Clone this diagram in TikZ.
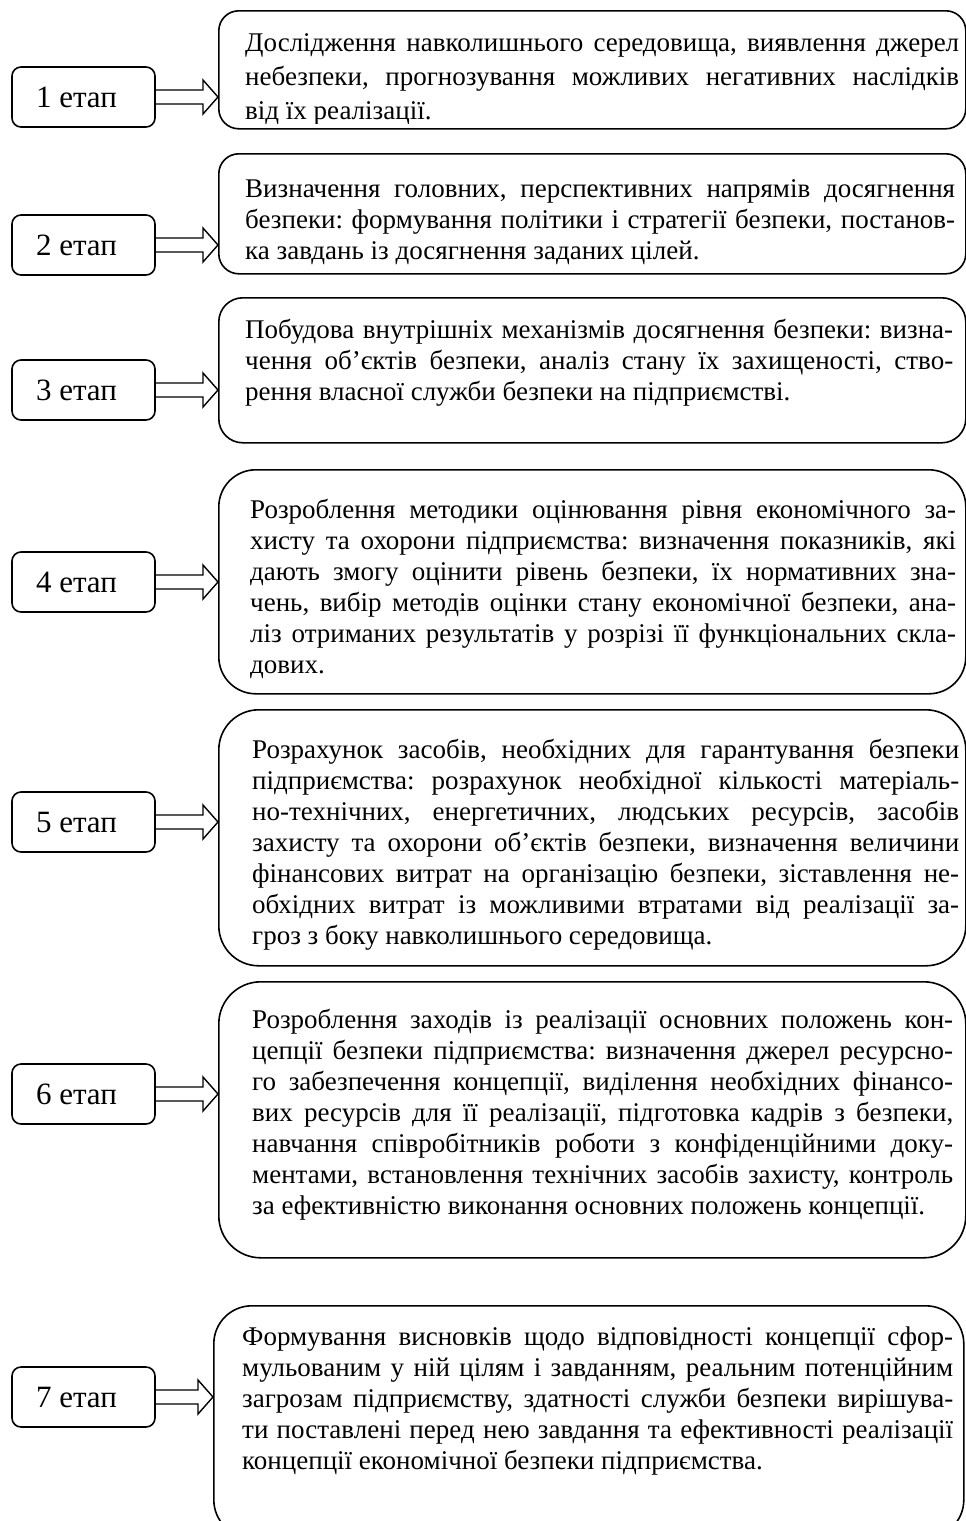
\documentclass[tikz,border=0pt]{standalone}
\usepackage{fontspec}
\setmainfont{Liberation Serif}
\usetikzlibrary{calc}
\tolerance=10000
\hbadness=10000
\frenchspacing

% double-lined open arrow from a stage box to its text box
\newcommand{\stagearrow}[2]{%
  \draw[arrowline] ($(#1.east)+(0,-7)$) -- ($(#2.west |- #1.east)+(-15,-7)$) -- ++(0,-10)
    -- (#2.west |- #1.east) -- ++(-15,17) -- ++(0,-10) -- ($(#1.east)+(0,7)$);}

\begin{document}
\begin{tikzpicture}[x=1pt,y=-1pt,
    stagebox/.style={draw,line width=1.6pt,rounded corners=9pt,minimum width=143pt,
      minimum height=60pt,inner sep=0pt,font=\fontsize{31}{36}\selectfont},
    textbox/.style={draw,line width=1.6pt,anchor=north west,minimum width=747pt,inner sep=0pt},
    boxtext/.style={anchor=north west,inner sep=0pt,text width=708pt,align=justify,
      font=\fontsize{27}{31}\selectfont},
    arrowline/.style={line width=1.4pt,line join=miter}]
  \path[use as bounding box,clip] (0,0) rectangle (966,1521);

  % text boxes
  \node[textbox,minimum height=118pt,rounded corners=20pt] (b1) at (218,10) {};
  \node[textbox,minimum height=120pt,rounded corners=20pt] (b2) at (218,153) {};
  \node[textbox,minimum height=145pt,rounded corners=24pt] (b3) at (218,297) {};
  \node[textbox,minimum height=224pt,rounded corners=37pt] (b4) at (218,469) {};
  \node[textbox,minimum height=256pt,rounded corners=40pt] (b5) at (218,709) {};
  \node[textbox,minimum height=276pt,rounded corners=42pt] (b6) at (218,981) {};
  \node[textbox,minimum height=232pt,minimum width=750pt,rounded corners=38pt] (b7) at (213,1305) {};

  % the third line of the first box is cut by its border
  \begin{scope}
    \clip ($(b1.north west)+(0,0)$) rectangle ($(b1.south east)+(0,-6)$);
    \node[boxtext,text width=714pt,font=\fontsize{27}{34}\selectfont] (t1) at ($(b1.north west)+(27,23)$) {Дослідження навколишнього середовища, виявлення джерел\linebreak
      небезпеки, прогнозування можливих негативних наслідків\linebreak
      від їх  реалізації.};
  \end{scope}
  \node[boxtext,text width=710pt] (t2) at ($(b2.north west)+(27,26)$) {Визначення головних, перспективних напрямів досягнення\linebreak
    безпеки: формування політики і стратегії безпеки, постанов-\linebreak
    ка завдань із досягнення заданих цілей.};
  \node[boxtext] (t3) at ($(b3.north west)+(27,22)$) {Побудова внутрішніх механізмів досягнення безпеки: визна-\linebreak
    чення об'єктів безпеки, аналіз стану їх захищеності, ство-\linebreak
    рення власної служби безпеки на підприємстві.};
  \node[boxtext,text width=706pt] (t4) at ($(b4.north west)+(32,30)$) {Розроблення методики оцінювання рівня економічного за-\linebreak
    хисту та охорони підприємства: визначення показників, які\linebreak
    дають змогу оцінити рівень безпеки, їх нормативних зна-\linebreak
    чень, вибір методів оцінки стану економічної безпеки, ана-\linebreak
    ліз отриманих результатів у розрізі її функціональних скла-\linebreak
    дових.};
  \node[boxtext,text width=707pt] (t5) at ($(b5.north west)+(34,30)$) {Розрахунок засобів, необхідних для гарантування безпеки\linebreak
    підприємства: розрахунок необхідної кількості матеріаль-\linebreak
    но-технічних, енергетичних, людських ресурсів, засобів\linebreak
    захисту та охорони об'єктів безпеки, визначення величини\linebreak
    фінансових витрат на організацію безпеки, зіставлення не-\linebreak
    обхідних витрат із можливими втратами від реалізації за-\linebreak
    гроз з боку навколишнього середовища.};
  \node[boxtext,text width=701pt] (t6) at ($(b6.north west)+(34,28)$) {Розроблення заходів із реалізації основних положень кон-\linebreak
    цепції безпеки підприємства: визначення джерел ресурсно-\linebreak
    го забезпечення концепції, виділення необхідних фінансо-\linebreak
    вих ресурсів для її реалізації, підготовка кадрів з безпеки,\linebreak
    навчання співробітників роботи з конфіденційними доку-\linebreak
    ментами, встановлення технічних засобів захисту, контроль\linebreak
    за ефективністю виконання основних положень концепції.};
  \node[boxtext,text width=711pt] (t7) at ($(b7.north west)+(29,22)$) {Формування висновків щодо відповідності концепції сфор-\linebreak
    мульованим у ній цілям і завданням, реальним потенційним\linebreak
    загрозам підприємству, здатності служби безпеки вирішува-\linebreak
    ти поставлені перед нею завдання та ефективності реалізації\linebreak
    концепції економічної безпеки підприємства.};

  % stages
  \foreach \n/\y in {1/97,2/245,3/390,4/582,5/822,6/1094,7/1397}
    \node[stagebox] (s\n) at (83.5,\y) {\n~етап\hspace*{14pt}};
  \foreach \n in {1,...,7}
    \stagearrow{s\n}{b\n};
\end{tikzpicture}
\end{document}
